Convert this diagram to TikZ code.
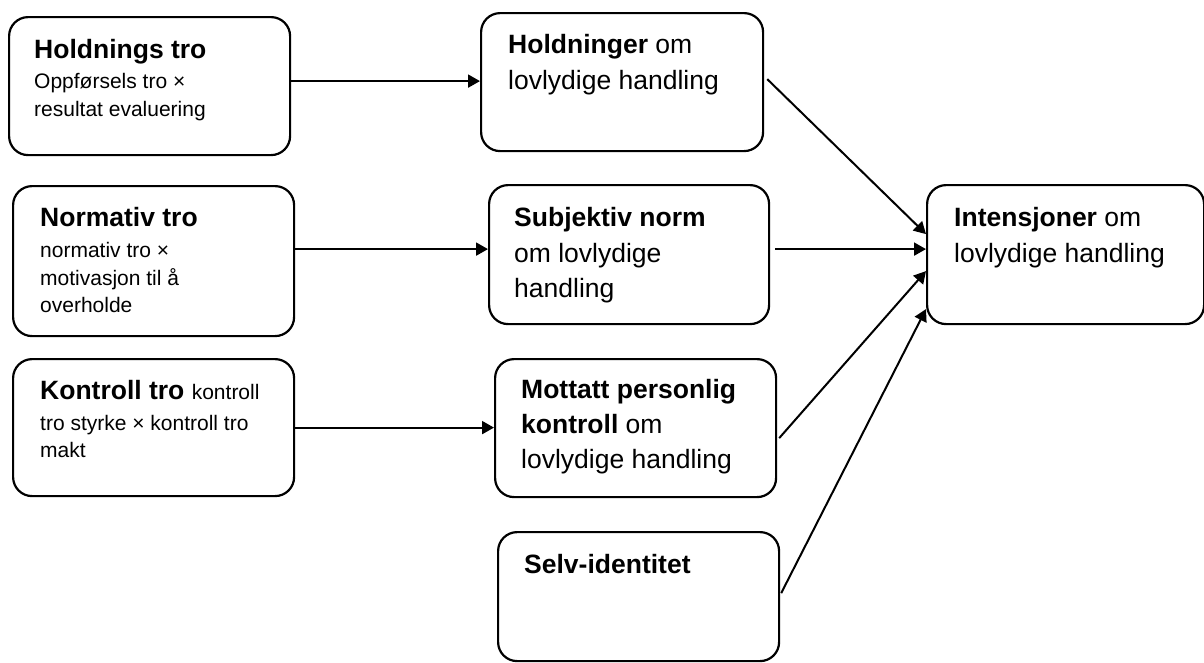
\documentclass[tikz,border=0pt]{standalone}
\usepackage{fontspec}
\setmainfont{Liberation Sans}
\usetikzlibrary{arrows.meta}
\tikzset{
  box/.style={draw, line width=2.2pt, rounded corners=19pt, anchor=north west, inner sep=0pt},
  big/.style={anchor=base west, inner sep=0pt, font=\fontsize{26.5}{32}\selectfont},
  small/.style={anchor=base west, inner sep=0pt, font=\fontsize{21}{26}\selectfont},
  arr/.style={line width=2pt, -{Triangle[length=12pt,width=13pt]}}
}
\begin{document}
\begin{tikzpicture}[x=1pt,y=-1pt]
\useasboundingbox (0,0) rectangle (1204,662);
% boxes
\node[box, minimum width=281pt, minimum height=138pt] (b1) at (8,16) {};
\node[box, minimum width=282pt, minimum height=138pt] (b2) at (480,12) {};
\node[box, minimum width=281pt, minimum height=150pt] (b3) at (12,185) {};
\node[box, minimum width=280pt, minimum height=139pt] (b4) at (488,184) {};
\node[box, minimum width=277pt, minimum height=139pt] (b5) at (926,184) {};
\node[box, minimum width=281pt, minimum height=137pt] (b6) at (12,358) {};
\node[box, minimum width=281pt, minimum height=138pt] (b7) at (494,358) {};
\node[box, minimum width=281pt, minimum height=129pt] (b8) at (497,531) {};
% texts
\node[big]   (t1a) at (34,58)  {\textbf{Holdnings tro}};
\node[small] (t1b) at (34,88)  {Oppførsels tro ×};
\node[small] (t1c) at (34,116) {resultat evaluering};
\node[big]   (t2a) at (508,53) {\textbf{Holdninger} om};
\node[big]   (t2b) at (508,89) {lovlydige handling};
\node[big]   (t3a) at (40,226) {\textbf{Normativ tro}};
\node[small] (t3b) at (40,257) {normativ tro ×};
\node[small] (t3c) at (40,285) {motivasjon til å};
\node[small] (t3d) at (40,312) {overholde};
\node[big]   (t4a) at (514,226) {\textbf{Subjektiv norm}};
\node[big]   (t4b) at (514,262) {om lovlydige};
\node[big]   (t4c) at (514,297) {handling};
\node[big]   (t5a) at (954,226) {\textbf{Intensjoner} om};
\node[big]   (t5b) at (954,262) {lovlydige handling};
\node[big]   (t6a) at (40,399) {\textbf{Kontroll tro} {\fontsize{21}{26}\selectfont kontroll}};
\node[small] (t6b) at (40,430) {tro styrke × kontroll tro};
\node[small] (t6c) at (40,457) {makt};
\node[big]   (t7a) at (521,398) {\textbf{Mottatt personlig}};
\node[big]   (t7b) at (521,433) {\textbf{kontroll} om};
\node[big]   (t7c) at (521,468) {lovlydige handling};
\node[big]   (t8a) at (524,573) {\textbf{Selv-identitet}};
% connectors
\draw[arr] ([yshift=5pt]b1.east) -- ([yshift=5pt]b1.east -| b2.west);
\draw[arr] ([yshift=12pt]b3.east) -- ([yshift=12pt]b3.east -| b4.west);
\draw[arr] (b6.east) -- (b6.east -| b7.west);
\draw[arr] ([shift={(3pt,3pt)}]b2.east) -- ([yshift=20.5pt]b5.west);
\draw[arr] ([shift={(5pt,5.5pt)}]b4.east) -- ([yshift=5.5pt]b5.west);
\draw[arr] ([shift={(2pt,-10pt)}]b7.east) -- ([yshift=-16.5pt]b5.west);
\draw[arr] ([shift={(1pt,3.5pt)}]b8.east) -- ([yshift=-54.5pt]b5.west);
\end{tikzpicture}
\end{document}
